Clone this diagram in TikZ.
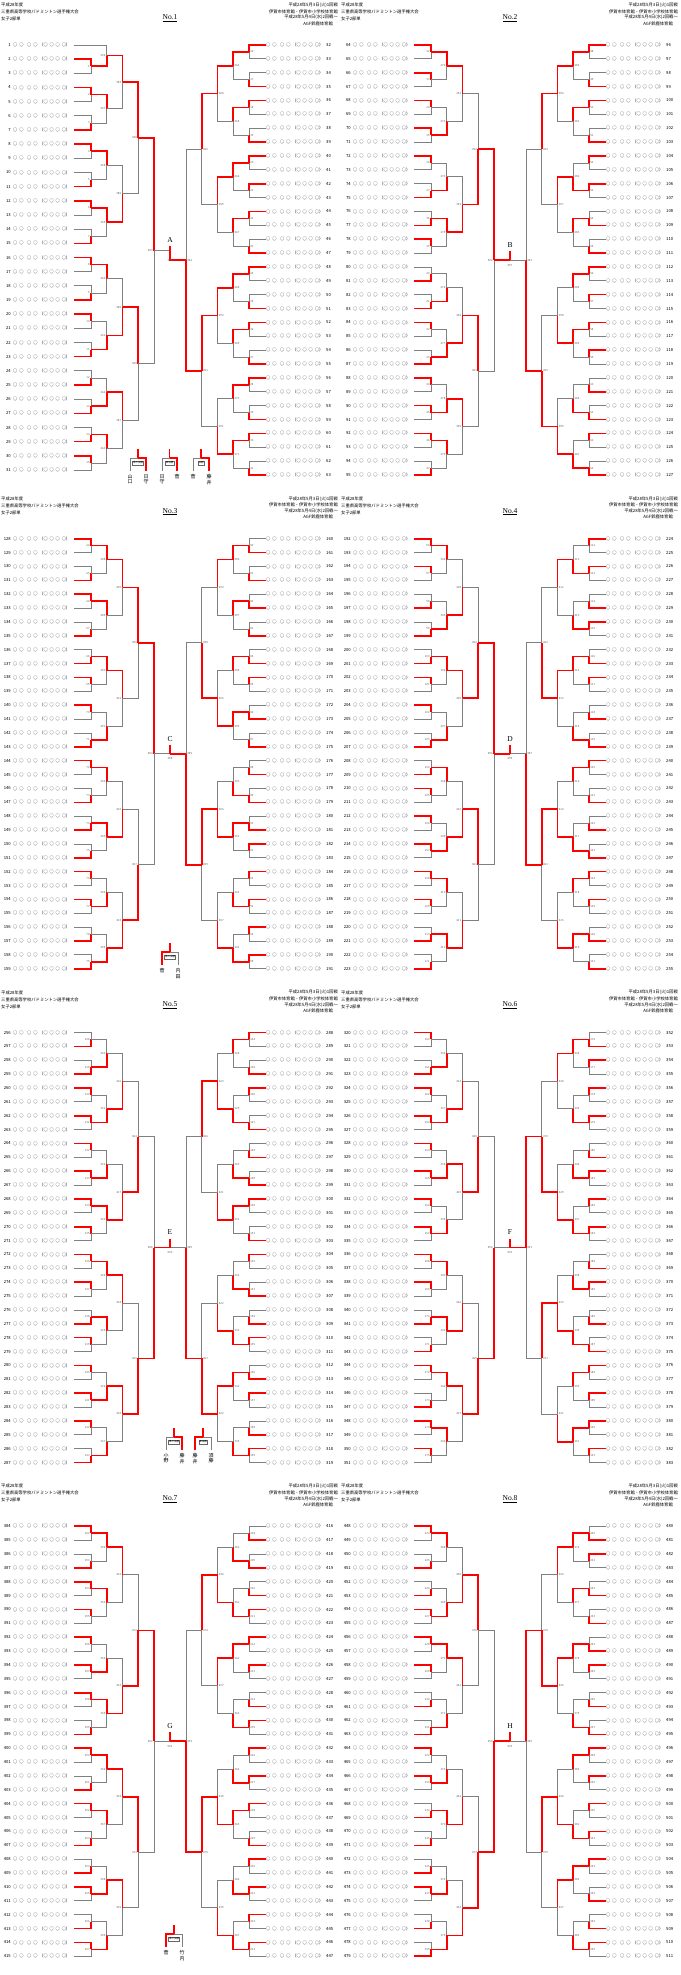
\documentclass[tikz,border=0pt]{standalone}
\usepackage{fontspec}
\setmainfont{Liberation Serif}
\newfontfamily\jp{Noto Sans CJK JP}
\tikzset{
  win/.style={draw=red, line width=1.6pt},
  lose/.style={draw=black!50, line width=0.8pt},
  num/.style={inner sep=0pt, font=\jp\fontsize{4.2}{4.2}\selectfont},
  nm/.style={inner sep=0pt, font=\jp\fontsize{4.2}{4.2}\selectfont},
  mlab/.style={inner sep=0pt, font=\jp\fontsize{2.8}{2.8}\selectfont, text=black!60},
  hdr/.style={inner sep=0pt, font=\jp\fontsize{4.3}{4.3}\selectfont},
  ttl/.style={inner sep=0pt, font=\fontsize{7.5}{7.5}\selectfont},
  flab/.style={draw=black!60, line width=0.3pt, inner sep=0.5pt, font=\jp\fontsize{2.5}{2.5}\selectfont, fill=white},
  fnm/.style={inner sep=0pt, align=center, font=\jp\fontsize{5}{5.6}\selectfont},
}
\newcommand\SetG[2]{\expandafter\xdef\csname #1\endcsname{#2}}
\newcommand\G[1]{\csname #1\endcsname}
\newcommand\Ovr[3]{\foreach \v [count=\c] in {#3}{\SetG{W#1-#2-\c}{\v}}}
\newcommand\Nm{\makebox[57pt][s]{○\hfill○\hfill\hfill○\hfill○\hfill（○\hfill○\hfill○\hfill○）}}
\newcommand\Match[7]{%
  \pgfmathsetmacro\xa{#1}\pgfmathsetmacro\ya{#2}%
  \pgfmathsetmacro\xb{#3}\pgfmathsetmacro\yb{#4}%
  \pgfmathsetmacro\ym{(\ya+\yb)/2}%
  \ifnum#6=0
    \draw[lose] (\xb,\yb) -- (#5,\yb) -- (#5,\ym);
    \draw[win] (\xa,\ya) -- (#5,\ya) -- (#5,\ym);
  \else
    \draw[lose] (\xa,\ya) -- (#5,\ya) -- (#5,\ym);
    \draw[win] (\xb,\yb) -- (#5,\yb) -- (#5,\ym);
  \fi
  \ifnum\dir=1
    \node[mlab,anchor=east] at (#5-1.2,\ym) {#7};
  \else
    \node[mlab,anchor=west] at (#5+1.2,\ym) {#7};
  \fi
}
\newcommand\Half[4]{%
  \pgfmathsetmacro\Xc{#1+170}%
  \edef\Xo{#1}\edef\Yo{#2}\edef\dir{#3}\edef\hh{#4}%
  \pgfmathsetmacro\Xent{\Xc-(\dir)*96}%
  \ifnum\hh=0 \def\nent{31}\def\dd{14.1667}\else \def\nent{32}\def\dd{13.871}\fi
  \pgfmathtruncatemacro\nfirst{\hh==0 ? 1 : 32*\hh}%
  \foreach \i in {1,...,\nent}{%
    \pgfmathsetmacro\yy{\Yo+45+(\i-1)*\dd}%
    \pgfmathtruncatemacro\num{\nfirst+\i-1}%
    \SetG{E\i}{\yy}%
    \ifnum\dir=1
      \node[num,anchor=east] at (\Xo+11,\yy) {\num};
      \node[nm,anchor=west] at (\Xo+13,\yy) {\Nm};
    \else
      \node[nm,anchor=west] at (\Xo+266,\yy) {\Nm};
      \node[num,anchor=west] at (\Xo+326,\yy) {\num};
    \fi
  }%
  \pgfmathsetmacro\xk{\Xc-(\dir)*79}%
  \foreach \j in {1,...,16}{%
    \pgfmathtruncatemacro\w{mod(floor(abs(sin(\hh*97.3+31.7+\j*57.1))*1000),2)}%
    \ifcsname W\hh-1-\j\endcsname \edef\w{\csname W\hh-1-\j\endcsname}\fi
    \pgfmathtruncatemacro\mnum{\hh==0 ? \j-1 : 16*\hh+\j-1}%
    \pgfmathtruncatemacro\ca{\hh==0 ? 2*\j-2 : 2*\j-1}%
    \pgfmathtruncatemacro\cb{\ca+1}%
    \ifnum\hh=0
      \ifnum\j=1
        \SetG{Y1-1}{\G{E1}}\SetG{X1-1}{\Xent}%
      \else
        \Match{\Xent}{\G{E\ca}}{\Xent}{\G{E\cb}}{\xk}{\w}{\mnum}%
        \SetG{Y1-\j}{\ym}\SetG{X1-\j}{\xk}%
      \fi
    \else
      \Match{\Xent}{\G{E\ca}}{\Xent}{\G{E\cb}}{\xk}{\w}{\mnum}%
      \SetG{Y1-\j}{\ym}\SetG{X1-\j}{\xk}%
    \fi
  }%
  \foreach \k in {2,...,5}{%
    \pgfmathtruncatemacro\nk{2^(5-\k)}%
    \pgfmathtruncatemacro\km{\k-1}%
    \pgfmathsetmacro\xk{\Xc-(\dir)*(79-15.75*(\k-1))}%
    \pgfmathtruncatemacro\base{512-2^(10-\k)}%
    \foreach \j in {1,...,\nk}{%
      \pgfmathtruncatemacro\w{mod(floor(abs(sin(\hh*97.3+\k*31.7+\j*57.1))*1000),2)}%
      \ifcsname W\hh-\k-\j\endcsname \edef\w{\csname W\hh-\k-\j\endcsname}\fi
      \pgfmathtruncatemacro\mnum{\base+\nk*\hh+\j-1}%
      \pgfmathtruncatemacro\ca{2*\j-1}\pgfmathtruncatemacro\cb{2*\j}%
      \Match{\G{X\km-\ca}}{\G{Y\km-\ca}}{\G{X\km-\cb}}{\G{Y\km-\cb}}{\xk}{\w}{\mnum}%
      \SetG{Y\k-\j}{\ym}\SetG{X\k-\j}{\xk}%
    }%
  }%
  \SetG{Top\hh}{\G{Y5-1}}%
}
\newcommand\Page[5]{% X0, Y0, p, letter, winner side
  \pgfmathtruncatemacro\hL{2*#3}\pgfmathtruncatemacro\hR{2*#3+1}%
  \Half{#1}{#2}{1}{\hL}%
  \Half{#1}{#2}{-1}{\hR}%
  \pgfmathsetmacro\Xc{#1+170}%
  \pgfmathsetmacro\yL{\G{Top\hL}}\pgfmathsetmacro\yR{\G{Top\hR}}%
  \pgfmathsetmacro\yc{(\yL+\yR)/2}%
  \ifnum#5=0
    \draw[lose] (\Xc+16,\yR) -- (\Xc,\yR) -- (\Xc,\yc);
    \draw[win] (\Xc-16,\yL) -- (\Xc,\yL) -- (\Xc,\yc);
  \else
    \draw[lose] (\Xc-16,\yL) -- (\Xc,\yL) -- (\Xc,\yc);
    \draw[win] (\Xc+16,\yR) -- (\Xc,\yR) -- (\Xc,\yc);
  \fi
  \draw[win] (\Xc,\yc) -- (\Xc,\yc-9);
  \node[ttl] at (\Xc,\yc-15) {#4};
  \node[mlab] at (\Xc,\yc+5) {\the\numexpr496+#3\relax};
  \node[ttl] at (\Xc,#2+18) {\underline{No.\the\numexpr#3+1\relax}};
  \node[hdr,anchor=west] at (#1+1,#2+5) {平成28年度};
  \node[hdr,anchor=west] at (#1+1,#2+12) {三重県高等学校バドミントン選手権大会};
  \node[hdr,anchor=west] at (#1+1,#2+19) {女子2部単};
  \node[hdr,anchor=east] at (#1+338,#2+5) {平成28年5月3日(火)1回戦};
  \node[hdr,anchor=east] at (#1+338,#2+11.5) {伊賀市体育館・伊賀市小学校体育館};
  \node[hdr,anchor=east] at (#1+338,#2+17.5) {平成28年5月4日(水)2回戦～};
  \node[hdr,anchor=east] at (#1+333,#2+23.5) {AGF鈴鹿体育館};
}
\newcommand\Fin[7]{% xl, xr, ytop, winner, label, nameL, nameR
  \pgfmathsetmacro\fm{(#1+#2)/2}\pgfmathsetmacro\fh{#3+9}\pgfmathsetmacro\fb{#3+22}%
  \ifnum#4=0
    \draw[lose] (#2,\fb) -- (#2,\fh) -- (\fm,\fh);
    \draw[win] (#1,\fb) -- (#1,\fh) -- (\fm,\fh);
  \else
    \draw[lose] (#1,\fb) -- (#1,\fh) -- (\fm,\fh);
    \draw[win] (#2,\fb) -- (#2,\fh) -- (\fm,\fh);
  \fi
  \draw[win] (\fm,\fh) -- (\fm,#3);
  \node[flab] at (\fm,\fh+5) {#5};
  \node[fnm,anchor=north] at (#1,\fb+3) {#6};
  \node[fnm,anchor=north] at (#2,\fb+3) {#7};
}
\Ovr{0}{1}{0,0,0,1,0,1,0,1,0,1,0,1,1,1,1,0}
\Ovr{0}{2}{1,0}
\Ovr{0}{4}{0,0}
\Ovr{1}{1}{0,1,0,1,0,0,0,1,0,1,0,1,0,1,0,1}
\Ovr{1}{2}{0,0,0,0,0,0,0,0}
\Ovr{1}{3}{0,0,0,1}
\Ovr{1}{4}{0,0}
\Ovr{1}{5}{1}
\Ovr{2}{1}{0,0}
\Ovr{2}{2}{0}
\Ovr{2}{3}{0}
\Ovr{3}{1}{0}
\Ovr{3}{2}{0}
\Ovr{3}{3}{0}
\begin{document}
\begin{tikzpicture}[x=1pt,y=-1pt]
\useasboundingbox (0,0) rectangle (680,1975);
\fill[white] (0,0) rectangle (680,1975);
\Page{0}{0}{0}{A}{1}
\Page{340}{0}{1}{B}{0}
\Page{0}{493.75}{2}{C}{1}
\Page{340}{493.75}{3}{D}{0}
\Page{0}{987.5}{4}{E}{0}
\Page{340}{987.5}{5}{F}{1}
\Page{0}{1481.25}{6}{G}{1}
\Page{340}{1481.25}{7}{H}{0}
\Fin{130}{146}{449}{1}{準々決勝}{山\\口}{日\\守}
\Fin{162}{177}{449}{1}{準決勝}{日\\守}{菅}
\Fin{193}{209}{449}{1}{決勝}{菅}{藤\\井}
\Fin{162}{178}{943}{0}{準々決勝}{菅}{内\\田}
\Fin{166}{182}{1428}{1}{準々決勝}{小\\野}{藤\\井}
\Fin{195}{211}{1428}{0}{準決勝}{藤\\井}{須\\藤}
\Fin{166}{182}{1925}{0}{準々決勝}{菅}{竹\\内}
\end{tikzpicture}
\end{document}
